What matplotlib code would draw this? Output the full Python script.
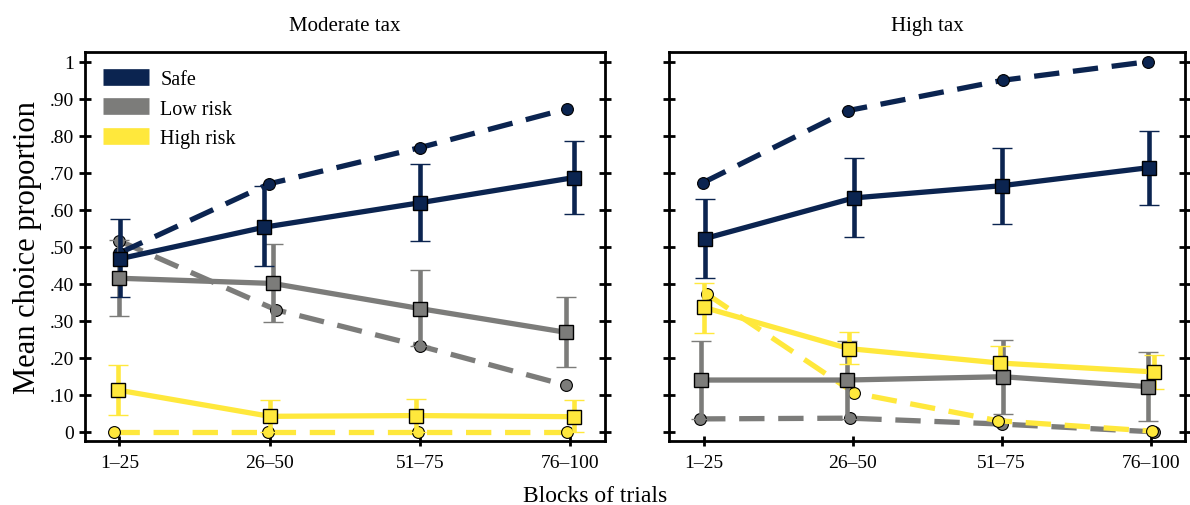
import numpy as np
import matplotlib
matplotlib.use("Agg")
import matplotlib.pyplot as plt
from matplotlib.lines import Line2D

plt.rcParams['font.family'] = ['Liberation Serif', 'DejaVu Serif']

blocks = ['1–25', '26–50', '51–75', '76–100']
panels = ['Moderate tax', 'High tax']
series_names = ['Safe', 'Low risk', 'High risk']

# Moderate tax: solid (squares, with error bars) and dashed (circles)
mod_solid = {
    'Safe': [0.468, 0.553, 0.619, 0.687],
    'Low risk': [0.415, 0.401, 0.333, 0.269],
    'High risk': [0.113, 0.042, 0.044, 0.041],
}
mod_lo = {
    'Safe': [0.363, 0.447, 0.515, 0.589],
    'Low risk': [0.312, 0.298, 0.232, 0.175],
    'High risk': [0.045, 0.0, 0.0, 0.0],
}
mod_hi = {
    'Safe': [0.576, 0.663, 0.723, 0.787],
    'Low risk': [0.519, 0.507, 0.436, 0.364],
    'High risk': [0.181, 0.086, 0.089, 0.085],
}
mod_dashed = {
    'Safe': [0.483, 0.670, 0.768, 0.873],
    'Low risk': [0.516, 0.330, 0.232, 0.126],
    'High risk': [0.0, 0.0, 0.0, 0.0],
}

# High tax
high_solid = {
    'Safe': [0.522, 0.632, 0.665, 0.714],
    'Low risk': [0.140, 0.140, 0.149, 0.122],
    'High risk': [0.336, 0.225, 0.186, 0.162],
}
high_lo = {
    'Safe': [0.416, 0.527, 0.561, 0.614],
    'Low risk': [0.035, 0.035, 0.049, 0.029],
    'High risk': [0.267, 0.183, 0.148, 0.117],
}
high_hi = {
    'Safe': [0.630, 0.741, 0.768, 0.814],
    'Low risk': [0.246, 0.246, 0.249, 0.217],
    'High risk': [0.402, 0.269, 0.232, 0.207],
}
high_dashed = {
    'Safe': [0.673, 0.868, 0.950, 1.0],
    'Low risk': [0.035, 0.037, 0.021, 0.0],
    'High risk': [0.372, 0.105, 0.030, 0.002],
}

colors = {'Safe': '#0b2450', 'Low risk': '#7c7c7a', 'High risk': '#ffe83c'}

# small horizontal jitter so points don't overlap
jit_solid = [
    {'Safe': [0.007, -0.035, 0.0, 0.024], 'Low risk': [0.0, 0.02, 0.0, -0.03], 'High risk': [-0.01, 0.0, -0.026, 0.024]},
    {'Safe': [0.007, 0.007, 0.0, -0.01], 'Low risk': [-0.014, -0.04, 0.007, -0.016], 'High risk': [0.005, -0.026, -0.014, 0.019]},
]
jit_dash = [
    {'Safe': [0.0, -0.005, 0.0, -0.02], 'Low risk': [0.0, 0.04, 0.0, -0.03], 'High risk': [-0.035, -0.01, -0.015, -0.02]},
    {'Safe': [-0.005, -0.03, 0.01, -0.02], 'Low risk': [-0.023, -0.02, 0.0, 0.023], 'High risk': [0.023, 0.012, -0.023, 0.01]},
]

fig = plt.figure(figsize=(11.9, 5.06), dpi=100)
ax1 = fig.add_axes([0.0712, 0.127, 0.4372, 0.7688])
ax2 = fig.add_axes([0.5624, 0.127, 0.4334, 0.7688])

data = [(mod_solid, mod_lo, mod_hi, mod_dashed), (high_solid, high_lo, high_hi, high_dashed)]

x = np.arange(len(blocks))
for i, ax in enumerate([ax1, ax2]):
    solid, lo, hi, dashed = data[i]
    for name in ['Low risk', 'High risk', 'Safe'] if i == 1 else ['High risk', 'Low risk', 'Safe']:
        c = colors[name]
        xs = x + np.array(jit_solid[i][name])
        xd = x + np.array(jit_dash[i][name])
        y = np.array(solid[name])
        yerr = [y - np.array(lo[name]), np.array(hi[name]) - y]
        ax.errorbar(xs, y, yerr=yerr, color=c, lw=3.8, elinewidth=3.3, capsize=7,
                    capthick=3.3, marker='s', ms=10, mfc=c, mec='black', mew=1, zorder=3)
        ax.plot(xd, dashed[name], color=c, lw=3.8, ls=(0, (4.8, 2.6)), marker='o',
                ms=8.5, mfc=c, mec='black', mew=0.8, zorder=2)

    ax.set_xlim(-0.23, 3.23)
    ax.set_ylim(-0.024, 1.027)
    ax.set_xticks(x)
    ax.set_xticklabels(blocks, fontsize=14)
    ax.set_yticks(np.arange(0, 1.01, 0.1))
    ax.tick_params(axis='y', direction='inout', length=8, width=2, right=True, labelsize=14)
    ax.tick_params(axis='x', direction='inout', length=7, width=2, labelsize=14, pad=6)
    for sp in ax.spines.values():
        sp.set_linewidth(2)
    ax.set_title(panels[i], fontsize=15, pad=16)

ax1.set_yticklabels(['0', '.10', '.20', '.30', '.40', '.50', '.60', '.70', '.80', '.90', '1'])
ax2.set_yticklabels([])
ax1.set_ylabel('Mean choice proportion', fontsize=22, labelpad=6)
fig.text(0.5, 0.008, 'Blocks of trials', ha='center', fontsize=17)

handles = [Line2D([0], [0], color=colors[n], lw=12, solid_capstyle='butt') for n in series_names]
ax1.legend(handles, series_names, loc='upper left', frameon=False, fontsize=14.5,
           handlelength=2.3, handletextpad=0.55, labelspacing=0.52,
           borderaxespad=0.5, bbox_to_anchor=(0.0, 1.0))

fig.savefig('out.png', dpi=100)
